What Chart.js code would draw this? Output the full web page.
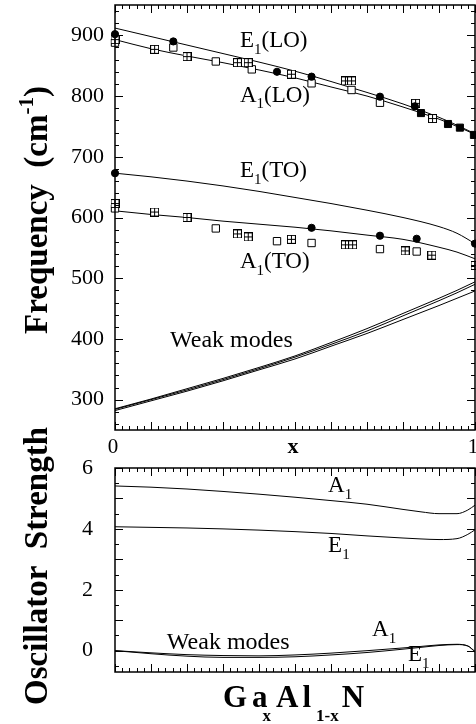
<!DOCTYPE html>
<html>
<head>
<meta charset="utf-8">
<script src="https://cdn.jsdelivr.net/npm/chart.js@4.4.1/dist/chart.umd.min.js"></script>
<style>
  html, body { margin: 0; padding: 0; background: #fff; overflow: hidden; }
  #wrap { position: relative; width: 476px; height: 724px; overflow: hidden; }
  #freqChart { position: absolute; left: 0; top: 0; }
  #oscChart { position: absolute; left: 0; top: 400px; }
</style>
</head>
<body>
<div id="wrap">
  <canvas id="freqChart" width="476" height="460"></canvas>
  <canvas id="oscChart" width="476" height="324"></canvas>
</div>
<script>
// ---- data ----
const compX = [0, 0.1, 0.2, 0.3, 0.4, 0.5, 0.6, 0.7, 0.8, 0.9, 0.95, 1.0];
const e1LO = [912, 898, 884, 870, 856, 841, 824, 806, 787, 765, 752, 738];
const a1LO = [893, 878, 866, 855, 843, 830, 815, 800, 782, 762, 750, 737];
const e1TO = [673, 667, 660, 652, 643, 633, 623, 612, 600, 585, 574, 557];
const a1TO = [611, 605, 600, 594, 589, 584, 578, 571, 564, 551, 543, 532];
const weakHi = [285, 301, 318, 335, 353, 372, 394, 417, 442, 467, 480, 494];
const weakMid = [284, 300, 316, 333, 351, 370, 391, 413, 438, 463, 476, 490];
const weakLo = [282, 298, 314, 331, 349, 367, 388, 409, 432, 455, 467, 479];

// measured points: [x, frequency]
const filledCircles = [[0, 902], [0.162, 890], [0.45, 840], [0.546, 832], [0.736, 799], [0.833, 783],
  [0, 673], [0.546, 583], [0.736, 570], [0.838, 565], [1.0, 557]];
const filledSquares = [[0.85, 772], [0.925, 754], [0.958, 748], [0.997, 736]];
const openSquares = [[0, 888], [0.162, 880], [0.28, 857], [0.38, 844], [0.546, 821], [0.657, 810], [0.736, 789],
  [0, 615], [0.28, 582], [0.45, 561], [0.546, 558], [0.736, 548], [0.838, 544]];
const plusSquares = [[0, 893], [0.11, 877], [0.2, 865], [0.34, 855], [0.37, 855], [0.49, 836], [0.64, 825],
  [0.657, 825], [0.835, 788], [0.882, 763],
  [0, 623], [0.11, 609], [0.2, 600], [0.34, 573], [0.37, 568], [0.49, 564], [0.64, 555], [0.66, 555],
  [0.806, 545], [0.88, 538], [1.0, 521]];

const oscX = [0, 0.1, 0.2, 0.3, 0.4, 0.5, 0.6, 0.7, 0.8, 0.85, 0.9, 0.95, 0.98, 1.0];
const oscA1 = [5.41, 5.37, 5.31, 5.23, 5.14, 5.04, 4.93, 4.81, 4.64, 4.56, 4.50, 4.50, 4.62, 4.78];
const oscE1 = [4.07, 4.05, 4.03, 4.00, 3.96, 3.91, 3.85, 3.77, 3.70, 3.67, 3.65, 3.68, 3.82, 3.97];
const oscWeakA1 = [0.0, -0.07, -0.13, -0.16, -0.17, -0.14, -0.08, 0.0, 0.09, 0.14, 0.19, 0.21, 0.15, -0.02];
const oscWeakE1 = [0.0, -0.1, -0.18, -0.22, -0.22, -0.2, -0.14, -0.06, 0.05, 0.11, 0.17, 0.2, 0.16, -0.05];

const freqTicks = [300, 400, 500, 600, 700, 800, 900];
const oscTicks = [0, 2, 4, 6];
const xTickLabels = [0, 1];

const serif = '"Liberation Serif", "Times New Roman", serif';

const pts = (xs, ys) => xs.map((x, i) => ({ x: x, y: ys[i] }));
const pairs = arr => arr.map(p => ({ x: p[0], y: p[1] }));

function curve(xs, ys) {
  return {
    data: pts(xs, ys), showLine: true, borderColor: '#000', borderWidth: 1,
    pointRadius: 0, cubicInterpolationMode: 'monotone', fill: false
  };
}

function plusSquare(size) {
  const c = document.createElement('canvas');
  c.width = c.height = size;
  const g = c.getContext('2d');
  g.fillStyle = '#fff';
  g.fillRect(0, 0, size, size);
  g.strokeStyle = '#000';
  g.lineWidth = 1;
  g.strokeRect(0.5, 0.5, size - 1, size - 1);
  g.beginPath();
  g.moveTo(size / 2, 0); g.lineTo(size / 2, size);
  g.moveTo(0, size / 2); g.lineTo(size, size / 2);
  g.stroke();
  return c;
}

// text with sub/superscripts; parts = [[text, ''|'sub'|'sup', dxBefore], ...]
function drawRich(ctx, parts, x, y, size, bold, center, opt) {
  const o = Object.assign({ subScale: 0.65, subDrop: 0.3 }, opt || {});
  const weight = bold ? 'bold ' : '';
  const setFont = p => { ctx.font = weight + (p[1] ? Math.round(size * o.subScale) : size) + 'px ' + serif; };
  const widths = parts.map(p => { setFont(p); return ctx.measureText(p[0]).width + (p[2] || 0); });
  let cx = center ? x - widths.reduce((a, b) => a + b, 0) / 2 : x;
  ctx.textAlign = 'left';
  ctx.textBaseline = 'alphabetic';
  parts.forEach((p, i) => {
    setFont(p);
    const dy = p[1] === 'sub' ? size * o.subDrop : p[1] === 'sup' ? -size * 0.42 : 0;
    ctx.fillText(p[0], cx + (p[2] || 0), y + dy);
    cx += widths[i];
  });
}

// frame with inward ticks on all four sides
const frameTicks = {
  id: 'frameTicks',
  afterDraw(chart, args, opts) {
    const { ctx, chartArea: a, scales } = chart;
    ctx.save();
    ctx.strokeStyle = '#000';
    ctx.lineWidth = 1;
    const marks = (scale, step, len, horizontal) => {
      const first = Math.ceil(scale.min / step - 1e-6);
      ctx.beginPath();
      for (let k = first; k * step <= scale.max + 1e-6; k++) {
        const p = Math.round(scale.getPixelForValue(k * step)) + 0.5;
        if (horizontal) {
          ctx.moveTo(p, a.bottom); ctx.lineTo(p, a.bottom - len);
          ctx.moveTo(p, a.top); ctx.lineTo(p, a.top + len);
        } else {
          ctx.moveTo(a.left, p); ctx.lineTo(a.left + len, p);
          ctx.moveTo(a.right, p); ctx.lineTo(a.right - len, p);
        }
      }
      ctx.stroke();
    };
    marks(scales.x, 0.1, 8, true);
    marks(scales.x, 0.02, 4, true);
    marks(scales.y, opts.yMajor, 8, false);
    marks(scales.y, opts.yMinor, 4, false);
    ctx.lineWidth = 1.5;
    ctx.strokeRect(a.left, a.top, a.right - a.left, a.bottom - a.top);
    ctx.restore();
  }
};

// in-plot labels, x tick labels and axis titles
const annotate = {
  id: 'annotate',
  afterDraw(chart, args, opts) {
    const { ctx, chartArea: a, scales: { x, y } } = chart;
    ctx.save();
    ctx.fillStyle = '#000';
    (opts.labels || []).forEach(l => {
      drawRich(ctx, l.parts, x.getPixelForValue(l.at[0]), y.getPixelForValue(l.at[1]), l.size || 23, false, false);
    });
    if (opts.xLabels) {
      ctx.font = opts.xLabels.size + 'px ' + serif;
      ctx.textAlign = 'center';
      ctx.textBaseline = 'alphabetic';
      opts.xLabels.values.forEach(v => ctx.fillText(String(v), x.getPixelForValue(v) - 2, a.bottom + opts.xLabels.dy));
    }
    (opts.titles || []).forEach(t => {
      ctx.save();
      ctx.translate(t.pos[0], t.pos[1]);
      if (t.rotate) ctx.rotate(-Math.PI / 2);
      drawRich(ctx, t.parts, 0, 0, t.size, true, !t.left, t.opt);
      ctx.restore();
    });
    ctx.restore();
  }
};

const noPad = s => { s.paddingLeft = 0; s.paddingRight = 0; s.paddingTop = 0; s.paddingBottom = 0; };

Chart.defaults.font.family = serif;
Chart.defaults.color = '#000';

// ---- top panel: frequencies ----
new Chart(document.getElementById('freqChart'), {
  type: 'scatter',
  data: {
    datasets: [
      { data: pairs(filledCircles), pointStyle: 'circle', pointRadius: 3.6, backgroundColor: '#000', borderColor: '#000', clip: false },
      { data: pairs(filledSquares), pointStyle: 'rect', pointRadius: 5, backgroundColor: '#000', borderColor: '#000', clip: false },
      { data: pairs(plusSquares), pointStyle: plusSquare(9), clip: false },
      { data: pairs(openSquares), pointStyle: 'rect', pointRadius: 5.2, backgroundColor: '#fff', borderColor: '#000', borderWidth: 1, clip: false },
      curve(compX, e1LO),
      curve(compX, a1LO),
      curve(compX, e1TO),
      curve(compX, a1TO),
      curve(compX, weakHi),
      curve(compX, weakMid),
      curve(compX, weakLo)
    ]
  },
  options: {
    responsive: false,
    devicePixelRatio: 1,
    animation: false,
    events: [],
    layout: { autoPadding: false, padding: { top: 5, right: 1, left: 0, bottom: 0 } },
    plugins: {
      legend: { display: false },
      tooltip: { enabled: false },
      frameTicks: { yMajor: 100, yMinor: 20 },
      annotate: {
        labels: [
          { parts: [['E', ''], ['1', 'sub'], ['(LO)', '']], at: [0.347, 881] },
          { parts: [['A', ''], ['1', 'sub'], ['(LO)', '']], at: [0.347, 791] },
          { parts: [['E', ''], ['1', 'sub'], ['(TO)', '']], at: [0.347, 667] },
          { parts: [['A', ''], ['1', 'sub'], ['(TO)', '']], at: [0.347, 517] },
          { parts: [['Weak modes', '']], at: [0.153, 387], size: 24 }
        ],
        xLabels: { values: xTickLabels, size: 21, dy: 23 },
        titles: [
          { parts: [['Frequency  (cm', ''], ['-1', 'sup'], [')', '']], pos: [47, 210], size: 33, rotate: true },
          { parts: [['x', '']], pos: [293, 453], size: 22, rotate: false }
        ]
      }
    },
    scales: {
      x: {
        type: 'linear', min: 0, max: 1,
        grid: { display: false, drawTicks: false },
        border: { display: false },
        afterFit: s => { s.height = 30; noPad(s); },
        ticks: { display: false }
      },
      y: {
        type: 'linear', min: 250, max: 950,
        grid: { display: false, drawTicks: false },
        border: { display: false },
        afterFit: s => { s.width = 115; noPad(s); },
        afterBuildTicks: s => { s.ticks = freqTicks.map(v => ({ value: v })); },
        ticks: { padding: 11, font: { size: 22 } }
      }
    }
  },
  plugins: [frameTicks, annotate]
});

// ---- bottom panel: oscillator strengths ----
new Chart(document.getElementById('oscChart'), {
  type: 'scatter',
  data: {
    datasets: [
      curve(oscX, oscA1),
      curve(oscX, oscE1),
      curve(oscX, oscWeakA1),
      curve(oscX, oscWeakE1)
    ]
  },
  options: {
    responsive: false,
    devicePixelRatio: 1,
    animation: false,
    events: [],
    layout: { autoPadding: false, padding: { top: 68, right: 1, left: 0, bottom: 0 } },
    plugins: {
      legend: { display: false },
      tooltip: { enabled: false },
      frameTicks: { yMajor: 1, yMinor: 0.5 },
      annotate: {
        labels: [
          { parts: [['A', ''], ['1', 'sub']], at: [0.592, 5.21] },
          { parts: [['E', ''], ['1', 'sub']], at: [0.592, 3.25] },
          { parts: [['Weak modes', '']], at: [0.144, 0.065], size: 24 },
          { parts: [['A', ''], ['1', 'sub']], at: [0.714, 0.49] },
          { parts: [['E', ''], ['1', 'sub']], at: [0.814, -0.35] }
        ],
        titles: [
          { parts: [['Oscillator  Strength', '']], pos: [47, 166], size: 33, rotate: true },
          { parts: [['G', ''], ['a', '', 5], ['x', 'sub', -5], ['A', '', 5], ['l', '', 4], ['1-x', 'sub', 5], ['N', '', 3]],
            pos: [223, 307], size: 31, rotate: false, left: true, opt: { subScale: 0.55, subDrop: 0.45 } }
        ]
      }
    },
    scales: {
      x: {
        type: 'linear', min: 0, max: 1,
        grid: { display: false, drawTicks: false },
        border: { display: false },
        afterFit: s => { s.height = 52; noPad(s); },
        ticks: { display: false }
      },
      y: {
        type: 'linear', min: -0.7, max: 6,
        grid: { display: false, drawTicks: false },
        border: { display: false },
        afterFit: s => { s.width = 115; noPad(s); },
        afterBuildTicks: s => { s.ticks = oscTicks.map(v => ({ value: v })); },
        ticks: { padding: 22, font: { size: 22 } }
      }
    }
  },
  plugins: [frameTicks, annotate]
});
</script>
</body>
</html>
